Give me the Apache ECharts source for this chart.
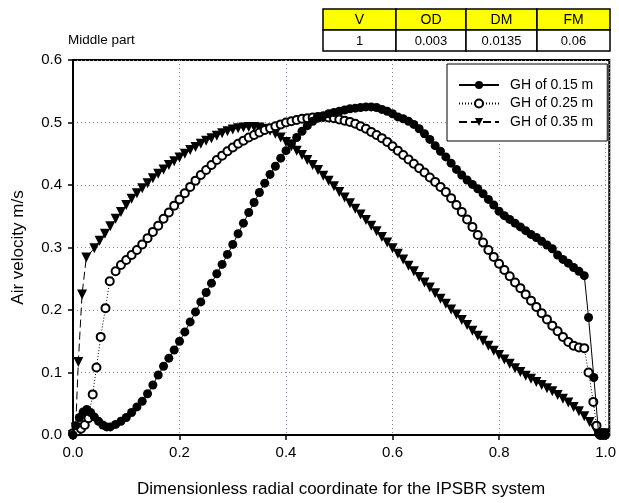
<!DOCTYPE html>
<html>
<head>
<meta charset="utf-8">
<script src="https://cdn.jsdelivr.net/npm/echarts@6/dist/echarts.min.js"></script>
<style>
html, body { margin: 0; padding: 0; background: #fff; }
#main { width: 619px; height: 503px; }
</style>
</head>
<body>
<div id="main"></div>
<script>
var seriesNames = ['GH of 0.15 m', 'GH of 0.25 m', 'GH of 0.35 m'];

var tableHead = ['V', 'OD', 'DM', 'FM'];
var tableRow = ['1', '0.003', '0.0135', '0.06'];

// GH of 0.15 m  [radial coordinate, velocity]
var gh015 = [
    [0, 0.0], [0.005, 0.015], [0.012, 0.028], [0.019, 0.037], [0.026, 0.041], [0.033, 0.036],
    [0.04, 0.029], [0.048, 0.022], [0.056, 0.016], [0.063, 0.013],
    [0.07, 0.013], [0.08, 0.017], [0.09, 0.022], [0.10, 0.028], [0.11, 0.036], [0.12, 0.045],
    [0.13, 0.054], [0.14, 0.066], [0.15, 0.080], [0.16, 0.096], [0.17, 0.110], [0.18, 0.123],
    [0.19, 0.136], [0.20, 0.150], [0.21, 0.165], [0.22, 0.181], [0.23, 0.197], [0.24, 0.213],
    [0.25, 0.228], [0.26, 0.243], [0.27, 0.258], [0.28, 0.273], [0.29, 0.289], [0.30, 0.305],
    [0.31, 0.322], [0.32, 0.339], [0.33, 0.356], [0.34, 0.372], [0.35, 0.388], [0.36, 0.403],
    [0.37, 0.417], [0.38, 0.430], [0.39, 0.443], [0.40, 0.455], [0.41, 0.466], [0.42, 0.476],
    [0.43, 0.486], [0.44, 0.495], [0.45, 0.502], [0.46, 0.507], [0.47, 0.511], [0.48, 0.514],
    [0.49, 0.516], [0.50, 0.518], [0.51, 0.520], [0.52, 0.522], [0.53, 0.523], [0.54, 0.524],
    [0.55, 0.525], [0.56, 0.525], [0.57, 0.524], [0.58, 0.521], [0.59, 0.518], [0.60, 0.514],
    [0.61, 0.509], [0.62, 0.506], [0.63, 0.502], [0.64, 0.497], [0.65, 0.490], [0.66, 0.482],
    [0.67, 0.473], [0.68, 0.463], [0.69, 0.454], [0.70, 0.445], [0.71, 0.435], [0.72, 0.425],
    [0.73, 0.416], [0.74, 0.408], [0.75, 0.401], [0.76, 0.394], [0.77, 0.386], [0.78, 0.377],
    [0.79, 0.368], [0.80, 0.358], [0.81, 0.351], [0.82, 0.345], [0.83, 0.339], [0.84, 0.333],
    [0.85, 0.327], [0.86, 0.321], [0.87, 0.316], [0.88, 0.310], [0.89, 0.304], [0.90, 0.298],
    [0.91, 0.288], [0.92, 0.281], [0.93, 0.275], [0.94, 0.268], [0.95, 0.262], [0.96, 0.255],
    [0.968, 0.188], [0.978, 0.092], [0.987, 0.002], [0.993, 0.0], [1.0, 0.0]
];

// GH of 0.25 m
var gh025 = [
    [0, 0.003], [0.008, 0.006], [0.015, 0.010], [0.022, 0.016], [0.029, 0.027], [0.037, 0.065],
    [0.044, 0.108], [0.052, 0.157], [0.061, 0.203], [0.069, 0.246],
    [0.08, 0.262], [0.09, 0.272], [0.10, 0.280], [0.11, 0.288], [0.12, 0.296], [0.13, 0.305],
    [0.14, 0.315], [0.15, 0.325], [0.16, 0.335], [0.17, 0.346], [0.18, 0.356], [0.19, 0.367],
    [0.20, 0.377], [0.21, 0.387], [0.22, 0.397], [0.23, 0.407], [0.24, 0.416], [0.25, 0.424],
    [0.26, 0.432], [0.27, 0.440], [0.28, 0.447], [0.29, 0.454], [0.30, 0.460], [0.31, 0.466],
    [0.32, 0.471], [0.33, 0.476], [0.34, 0.480], [0.35, 0.484], [0.36, 0.488], [0.37, 0.491],
    [0.38, 0.494], [0.39, 0.497], [0.40, 0.500], [0.41, 0.502], [0.42, 0.504], [0.43, 0.506],
    [0.44, 0.507], [0.45, 0.508], [0.46, 0.509], [0.47, 0.509], [0.48, 0.508], [0.49, 0.507],
    [0.50, 0.505], [0.51, 0.503], [0.52, 0.501], [0.53, 0.498], [0.54, 0.494], [0.55, 0.490],
    [0.56, 0.485], [0.57, 0.480], [0.58, 0.475], [0.59, 0.469], [0.60, 0.462], [0.61, 0.455],
    [0.62, 0.448], [0.63, 0.441], [0.64, 0.434], [0.65, 0.427], [0.66, 0.420], [0.67, 0.412],
    [0.68, 0.405], [0.69, 0.397], [0.70, 0.389], [0.71, 0.379], [0.72, 0.368], [0.73, 0.357],
    [0.74, 0.345], [0.75, 0.333], [0.76, 0.320], [0.77, 0.308], [0.78, 0.296], [0.79, 0.285],
    [0.80, 0.274], [0.81, 0.264], [0.82, 0.254], [0.83, 0.244], [0.84, 0.235], [0.85, 0.225],
    [0.86, 0.215], [0.87, 0.205], [0.88, 0.195], [0.89, 0.185], [0.90, 0.175], [0.91, 0.166],
    [0.92, 0.157], [0.93, 0.149], [0.94, 0.143], [0.95, 0.140], [0.96, 0.139],
    [0.968, 0.100], [0.977, 0.053], [0.983, 0.015], [0.99, 0.0], [0.996, 0.0]
];

// GH of 0.35 m
var gh035 = [
    [0, 0.0], [0.005, 0.012], [0.01, 0.117], [0.017, 0.225], [0.025, 0.284],
    [0.04, 0.299], [0.05, 0.311], [0.06, 0.322], [0.07, 0.334], [0.08, 0.346], [0.09, 0.357],
    [0.10, 0.368], [0.11, 0.378], [0.12, 0.387], [0.13, 0.395], [0.14, 0.403], [0.15, 0.411],
    [0.16, 0.418], [0.17, 0.425], [0.18, 0.432], [0.19, 0.438], [0.20, 0.444], [0.21, 0.450],
    [0.22, 0.456], [0.23, 0.461], [0.24, 0.466], [0.25, 0.471], [0.26, 0.475], [0.27, 0.479],
    [0.28, 0.483], [0.29, 0.486], [0.30, 0.489], [0.31, 0.491], [0.32, 0.492], [0.33, 0.493],
    [0.34, 0.493], [0.35, 0.492], [0.36, 0.490], [0.37, 0.487], [0.38, 0.482], [0.39, 0.476],
    [0.40, 0.469], [0.41, 0.462], [0.42, 0.455], [0.43, 0.448], [0.44, 0.440], [0.45, 0.432],
    [0.46, 0.424], [0.47, 0.415], [0.48, 0.407], [0.49, 0.398], [0.50, 0.389], [0.51, 0.380],
    [0.52, 0.371], [0.53, 0.362], [0.54, 0.353], [0.55, 0.344], [0.56, 0.335], [0.57, 0.326],
    [0.58, 0.317], [0.59, 0.308], [0.60, 0.299], [0.61, 0.290], [0.62, 0.281], [0.63, 0.271],
    [0.64, 0.262], [0.65, 0.253], [0.66, 0.244], [0.67, 0.236], [0.68, 0.227], [0.69, 0.218],
    [0.70, 0.210], [0.71, 0.201], [0.72, 0.193], [0.73, 0.184], [0.74, 0.176], [0.75, 0.167],
    [0.76, 0.159], [0.77, 0.151], [0.78, 0.143], [0.79, 0.135], [0.80, 0.128], [0.81, 0.121],
    [0.82, 0.114], [0.83, 0.107], [0.84, 0.101], [0.85, 0.095], [0.86, 0.090], [0.87, 0.085],
    [0.88, 0.080], [0.89, 0.075], [0.90, 0.070], [0.91, 0.064], [0.92, 0.058], [0.93, 0.052],
    [0.94, 0.045], [0.95, 0.038], [0.96, 0.030], [0.97, 0.021], [0.98, 0.010], [0.99, 0.003],
    [1.0, 0.003]
];

var fontFam = '"Liberation Sans", Arial, sans-serif';
var myChart = echarts.init(document.getElementById('main'));

// little table in the top right corner
var cellX = [323, 396, 466, 537, 610];
var tableEls = [];
for (var i = 0; i < tableHead.length; i++) {
    var w = cellX[i + 1] - cellX[i];
    tableEls.push({
        type: 'rect', shape: {x: cellX[i], y: 9, width: w, height: 21},
        style: {fill: '#ffff00', stroke: '#000', lineWidth: 1.5}
    });
    tableEls.push({
        type: 'rect', shape: {x: cellX[i], y: 30, width: w, height: 21},
        style: {fill: '#fff', stroke: '#000', lineWidth: 1.5}
    });
    tableEls.push({
        type: 'text', x: cellX[i] + w / 2, y: 20, z: 10,
        style: {text: tableHead[i], align: 'center', verticalAlign: 'middle', fontSize: 14, fontFamily: fontFam, fill: '#000'}
    });
    tableEls.push({
        type: 'text', x: cellX[i] + w / 2, y: 41, z: 10,
        style: {text: tableRow[i], align: 'center', verticalAlign: 'middle', fontSize: 13, fontFamily: fontFam, fill: '#000'}
    });
}

var gridLine = {show: true, lineStyle: {color: '#8a8aa0', type: [1, 3], width: 1}};

option = {
    animation: false,
    backgroundColor: '#fff',
    textStyle: {fontFamily: fontFam},
    title: {
        text: 'Middle part', left: 68, top: 33, padding: 0,
        textStyle: {fontSize: 13.5, fontWeight: 'normal', color: '#000', fontFamily: fontFam}
    },
    graphic: tableEls,
    legend: {
        orient: 'vertical', left: 447, top: 64,
        padding: [14, 14, 12, 11],
        itemGap: 4.5, itemWidth: 40, itemHeight: 10,
        borderColor: '#000', borderWidth: 1, backgroundColor: '#fff',
        textStyle: {fontSize: 14, color: '#000', fontFamily: fontFam, padding: [0, 0, 0, 6]},
        data: seriesNames
    },
    grid: {
        left: 73, right: 8, top: 60, bottom: 67,
        show: true, borderColor: '#000', borderWidth: 2
    },
    xAxis: {
        type: 'value', min: 0, max: 1.007, interval: 0.2,
        name: 'Dimensionless radial coordinate for the IPSBR system',
        nameLocation: 'middle', nameGap: 46,
        nameTextStyle: {fontSize: 17, color: '#000', fontFamily: fontFam},
        axisLine: {lineStyle: {color: '#000', width: 2}},
        axisTick: {length: 5, lineStyle: {color: '#000', width: 1.5}},
        axisLabel: {
            fontSize: 15, color: '#000', margin: 10, showMaxLabel: false,
            formatter: function (v) { return v.toFixed(1); }
        },
        splitLine: gridLine
    },
    yAxis: {
        type: 'value', min: 0, max: 0.6, interval: 0.1,
        name: 'Air velocity m/s',
        nameLocation: 'middle', nameGap: 46,
        nameTextStyle: {fontSize: 17, color: '#000', fontFamily: fontFam},
        axisLine: {lineStyle: {color: '#000', width: 2}},
        axisTick: {length: 5, lineStyle: {color: '#000', width: 1.5}},
        axisLabel: {
            fontSize: 15, color: '#000', margin: 11,
            formatter: function (v) { return v.toFixed(1); }
        },
        splitLine: gridLine
    },
    series: [{
        name: seriesNames[0],
        type: 'line', z: 4,
        data: gh015,
        symbol: 'circle', symbolSize: 9,
        itemStyle: {color: '#000'},
        lineStyle: {color: '#000', width: 1, type: 'solid'}
    }, {
        name: seriesNames[1],
        type: 'line', z: 3,
        data: gh025,
        symbol: 'emptyCircle', symbolSize: 8,
        itemStyle: {color: '#000', borderColor: '#000', borderWidth: 1},
        lineStyle: {color: '#000', width: 1, type: [1, 2]}
    }, {
        name: seriesNames[2],
        type: 'line', z: 2,
        data: gh035,
        symbol: 'triangle', symbolRotate: 180, symbolSize: 10,
        itemStyle: {color: '#000'},
        lineStyle: {color: '#000', width: 1, type: [8, 4]}
    }]
};

myChart.setOption(option);
window.onresize = myChart.resize;
</script>
</body>
</html>
